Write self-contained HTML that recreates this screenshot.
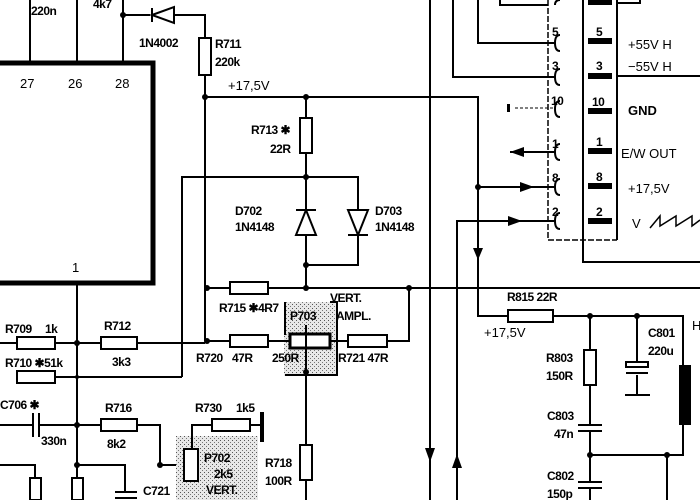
<!DOCTYPE html>
<html><head><meta charset="utf-8"><style>
html,body{margin:0;padding:0;background:#fff;width:700px;height:500px;overflow:hidden}
svg{display:block}
text{font-family:"Liberation Sans",sans-serif;font-size:13px;fill:#000}
.n{font-size:12px;font-weight:bold;letter-spacing:-0.5px}
</style></head><body>
<svg width="700" height="500" viewBox="0 0 700 500" xmlns="http://www.w3.org/2000/svg">
<defs>
<pattern id="st" width="4" height="4" patternUnits="userSpaceOnUse"><rect width="4" height="4" fill="#e8e8e8"/><rect x="0" y="0" width="1" height="1" fill="#555"/><rect x="2" y="2" width="1" height="1" fill="#777"/></pattern>
</defs>
<g stroke="#000" stroke-width="2" fill="none">
<!-- IC -->
<path d="M0 63 H153 V283 H0" stroke-width="5"/>
<path d="M30 0 V62 M77 0 V62 M123 0 V62"/>
<path d="M123 15 H150 M175 15 H205 V38 M205 75 V97 H478 V316 H508 M553 316 H683 V365"/>
<path d="M205 97 V341"/>
<!-- R711 -->
<rect x="199" y="38" width="12" height="37" fill="#fff"/>
<!-- diode 1N4002 -->
<path d="M152 8 V22 M152 15 L174 7 V23 Z" fill="#fff"/>
<!-- R713 -->
<path d="M306 97 V118 M306 153 V288"/>
<rect x="300" y="118" width="12" height="35" fill="#fff"/>
<path d="M182 377 V177 H358 V265 H306"/>
<!-- D702 up -->
<path d="M296 210 H316 M306 210 L296 235 H316 Z" fill="#fff"/>
<!-- D703 down -->
<path d="M348 235 H368 M358 235 L348 210 H368 Z" fill="#fff"/>
<path d="M205 288 H230 M268 288 H700"/>
<rect x="230" y="282" width="38" height="12" fill="#fff"/>
<path d="M409 288 V341 H387"/>
<!-- P703 -->
<rect x="284" y="302" width="52" height="74" fill="url(#st)" stroke="none"/>
<path d="M285 302 V335 M330 302 H337 V375 H285"/>
<path d="M205 341 H230 M268 341 H290 M330 341 H348"/>
<rect x="230" y="335" width="38" height="12" fill="#fff"/>
<rect x="348" y="335" width="39" height="12" fill="#fff"/>
<rect x="290" y="334" width="40" height="14" fill="#fff" stroke-width="3"/>
<path d="M306 325 V500"/>
<rect x="300" y="445" width="12" height="35" fill="#fff"/>
<!-- left -->
<path d="M77 283 V500 M0 343 H17 M55 343 H101 M137 343 H205 M55 377 H182"/>
<rect x="17" y="337" width="38" height="12" fill="#fff"/>
<rect x="17" y="371" width="38" height="12" fill="#fff"/>
<rect x="101" y="337" width="36" height="12" fill="#fff"/>
<path d="M0 425 H33 M39 425 H101 M33 413 V437 M39 413 V437"/>
<path d="M137 425 H160 V465 H190"/>
<rect x="101" y="419" width="36" height="12" fill="#fff"/>
<path d="M77 465 H125 V492 M115 492 H137 M115 498 H137"/>
<path d="M0 465 H35 V500"/>
<rect x="30" y="478" width="11" height="22" fill="#fff"/>
<rect x="72" y="478" width="11" height="22" fill="#fff"/>
<!-- P702 -->
<rect x="176" y="436" width="82" height="64" fill="url(#st)" stroke="none"/>
<path d="M192 465 V425 H212 M250 425 H262"/>
<rect x="212" y="419" width="38" height="12" fill="#fff"/>
<path d="M262 412 V442" stroke-width="4"/>
<rect x="184" y="449" width="14" height="32" fill="#fff"/>
<!-- vertical buses -->
<path d="M430 0 V500 M457 500 V221 H556 M478 187 H556 M453 0 V77 H556 M478 0 V43 H556 M510 152 H556"/>
<path d="M500 0 V5 H548"/>
<!-- connector -->
<path d="M548 0 V240 H617" stroke-dasharray="6 2" stroke-width="1.5"/>
<path d="M583 0 V262 H700 M617 0 V240"/>
<path d="M617 3 H640 V0 M617 76 H700"/>
<path d="M560 35 q-5 0 -5 8 q0 8 5 8 M560 69 q-5 0 -5 8 q0 8 5 8 M560 101 q-5 0 -5 8 q0 8 5 8 M560 144 q-5 0 -5 8 q0 8 5 8 M560 179 q-5 0 -5 8 q0 8 5 8 M560 213 q-5 0 -5 8 q0 8 5 8 M560 0 q-5 0 -5 5"/>
<path d="M515 108 H556" stroke-dasharray="3 2" stroke-width="1"/>
<!-- right lower -->
<rect x="508" y="310" width="45" height="12" fill="#fff"/>
<path d="M590 316 V350 M590 385 V425 M590 431 V482 M590 488 V500 M578 425 H602 M578 431 H602 M578 482 H602 M578 488 H602"/>
<rect x="584" y="350" width="12" height="35" fill="#fff"/>
<path d="M590 455 H667 V500 M667 455 H683 V425"/>
<path d="M637 316 V362 M637 375 V395 M625 395 H650" />
<rect x="626" y="362" width="22" height="5" fill="#fff"/>
<path d="M626 373 H648"/>
</g>
<rect x="679" y="365" width="12" height="60" fill="#000"/>
<!-- arrows -->
<g fill="#000">
<path d="M473 248 H483 L478 260 Z"/>
<path d="M425 448 H435 L430 462 Z"/>
<path d="M452 468 H462 L457 454 Z"/>
<path d="M510 152 L524 147 V157 Z"/>
<path d="M520 182 L534 187 L520 192 Z"/>
<path d="M508 216 L522 221 L508 226 Z"/>
<rect x="507" y="104" width="3" height="8"/>
<!-- pads -->
<rect x="588" y="38" width="24" height="6"/><rect x="588" y="73" width="24" height="6"/><rect x="588" y="108" width="24" height="6"/>
<rect x="588" y="148" width="24" height="6"/><rect x="588" y="183" width="24" height="6"/><rect x="588" y="218" width="24" height="6"/>
<rect x="588" y="0" width="24" height="5"/>
<rect x="252" y="403" width="0" height="0"/>
</g>
<!-- junctions -->
<g fill="#000">
<circle cx="123" cy="15" r="3"/><circle cx="205" cy="97" r="3"/><circle cx="306" cy="97" r="3"/>
<circle cx="306" cy="177" r="3"/><circle cx="306" cy="265" r="3"/><circle cx="306" cy="288" r="3"/>
<circle cx="207" cy="288" r="3"/><circle cx="207" cy="341" r="3"/><circle cx="409" cy="288" r="3"/>
<circle cx="306" cy="372" r="3"/><circle cx="77" cy="343" r="3"/><circle cx="77" cy="377" r="2"/>
<circle cx="77" cy="425" r="3"/><circle cx="77" cy="465" r="3"/><circle cx="160" cy="465" r="3"/>
<circle cx="478" cy="187" r="3"/><circle cx="590" cy="316" r="3"/><circle cx="637" cy="316" r="3"/>
<circle cx="590" cy="455" r="3"/><circle cx="667" cy="455" r="3"/>
</g>
<!-- labels -->
<text x="20" y="88" font-size="15">27</text><text x="68" y="88" font-size="15">26</text><text x="115" y="88" font-size="15">28</text>
<text x="72" y="272" font-size="13">1</text>
<text class="n" x="31" y="15">220n</text><text class="n" x="93" y="8">4k7</text>
<text class="n" x="139" y="47">1N4002</text>
<text class="n" x="215" y="48">R711</text><text class="n" x="215" y="66">220k</text>
<text x="228" y="90" font-size="14">+17,5V</text>
<text class="n" x="251" y="134">R713 ✱</text><text class="n" x="270" y="153">22R</text>
<text class="n" x="235" y="215">D702</text><text class="n" x="235" y="231">1N4148</text>
<text class="n" x="375" y="215">D703</text><text class="n" x="375" y="231">1N4148</text>
<text class="n" x="219" y="312">R715 ✱4R7</text>
<text class="n" x="330" y="302">VERT.</text><text class="n" x="336" y="320">AMPL.</text>
<text class="n" x="290" y="320">P703</text>
<text class="n" x="196" y="362">R720</text><text class="n" x="232" y="362">47R</text><text class="n" x="272" y="362">250R</text>
<text class="n" x="338" y="362">R721 47R</text>
<text class="n" x="5" y="333">R709</text><text class="n" x="45" y="333">1k</text>
<text class="n" x="104" y="330">R712</text><text class="n" x="112" y="366">3k3</text>
<text class="n" x="5" y="367">R710 ✱51k</text>
<text class="n" x="0" y="409">C706 ✱</text><text class="n" x="41" y="445">330n</text>
<text class="n" x="105" y="412">R716</text><text class="n" x="107" y="448">8k2</text>
<text class="n" x="195" y="412">R730</text><text class="n" x="236" y="412">1k5</text>
<text class="n" x="204" y="462">P702</text><text class="n" x="214" y="478">2k5</text><text class="n" x="206" y="494">VERT.</text>
<text class="n" x="143" y="495">C721</text>
<text class="n" x="265" y="467">R718</text><text class="n" x="265" y="485">100R</text>
<text class="n" x="507" y="301">R815 22R</text>
<text x="484" y="337" font-size="14">+17,5V</text>
<text class="n" x="546" y="362">R803</text><text class="n" x="546" y="380">150R</text>
<text class="n" x="547" y="420">C803</text><text class="n" x="554" y="438">47n</text>
<text class="n" x="547" y="480">C802</text><text class="n" x="547" y="498">150p</text>
<text class="n" x="648" y="337">C801</text><text class="n" x="648" y="355">220u</text>
<text x="692" y="330" font-size="15">H</text>
<text class="n" x="552" y="36" font-size="10">5</text><text class="n" x="552" y="70" font-size="10">3</text>
<text class="n" x="551" y="105" font-size="10">10</text><text class="n" x="552" y="148" font-size="10">1</text>
<text class="n" x="552" y="182" font-size="10">8</text><text class="n" x="552" y="216" font-size="10">2</text>
<text class="n" x="596" y="36" font-size="11">5</text><text class="n" x="596" y="70" font-size="11">3</text>
<text class="n" x="592" y="106" font-size="11">10</text><text class="n" x="596" y="146" font-size="11">1</text>
<text class="n" x="596" y="181" font-size="11">8</text><text class="n" x="596" y="216" font-size="11">2</text>
<text x="628" y="49" font-size="15">+55V  H</text>
<text x="628" y="71" font-size="15">−55V  H</text>
<text x="628" y="115" font-size="14" font-weight="bold">GND</text>
<text x="621" y="158" font-size="15">E/W  OUT</text>
<text x="628" y="193" font-size="15">+17,5V</text>
<text x="632" y="228" font-size="15">V</text>
<path d="M650 228 L660 216 V226 L676 216 V226 L692 216 V226 L700 220" stroke="#000" stroke-width="1.5" fill="none"/>
</svg>
</body></html>
